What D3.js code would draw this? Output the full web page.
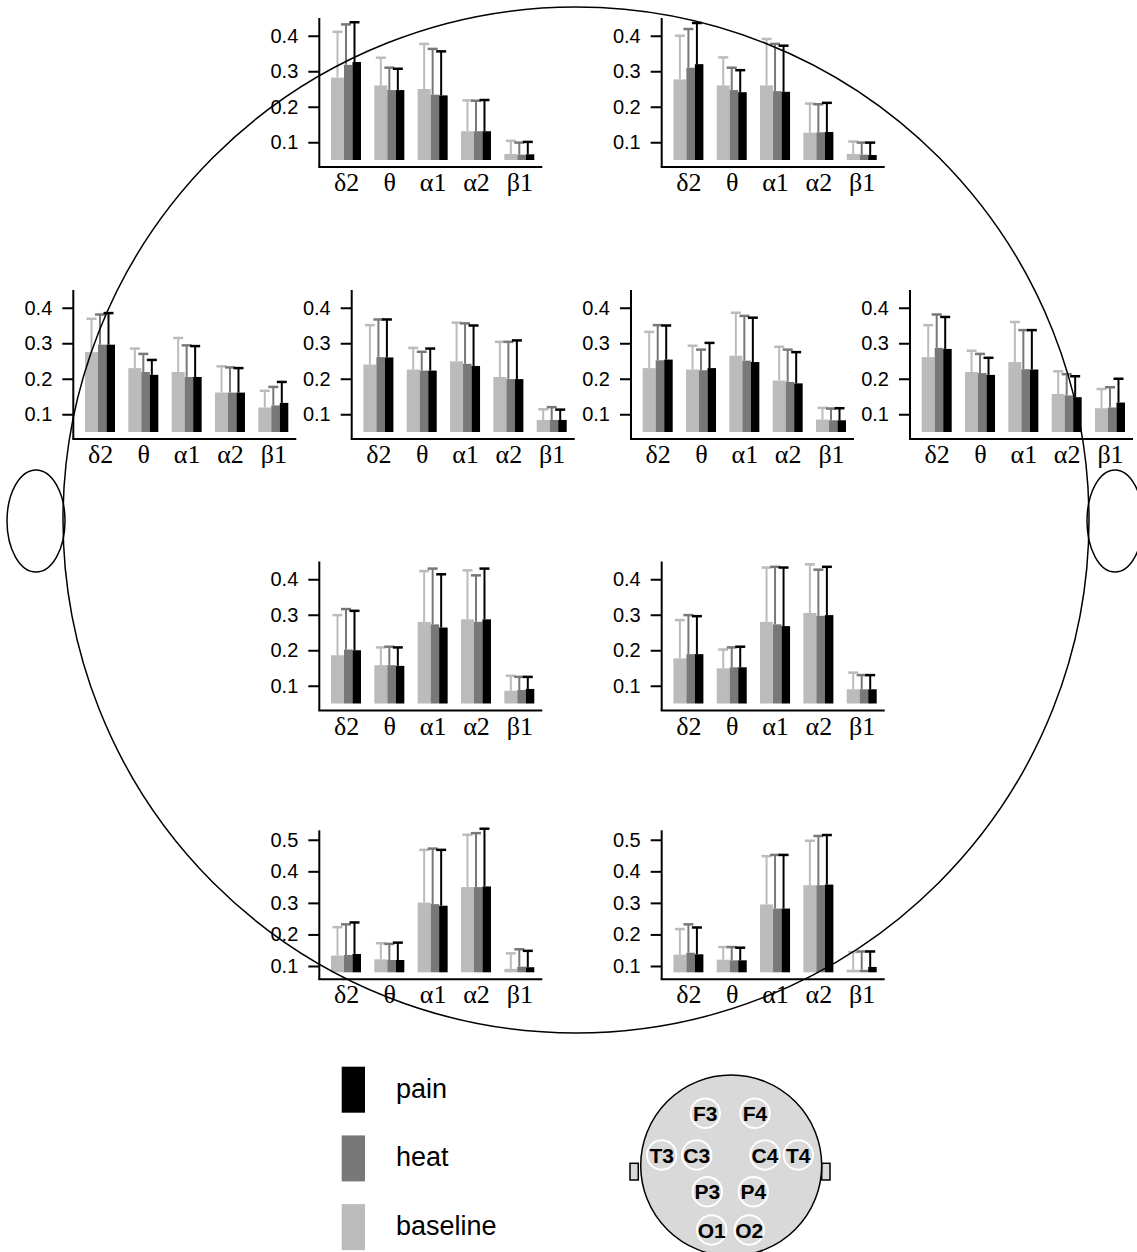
<!DOCTYPE html>
<html><head><meta charset="utf-8">
<script src="https://cdn.jsdelivr.net/npm/d3@7"></script>
<style>body{margin:0;background:#fff}svg{display:block}</style>
</head><body>
<svg id="c" width="1137" height="1252"></svg>
<script>
// ---------- data ----------
const bands = ["δ2", "θ", "α1", "α2", "β1"];
const conditions = ["baseline", "heat", "pain"];
const legendOrder = ["pain", "heat", "baseline"];
const ticksLow = [0.1, 0.2, 0.3, 0.4];
const ticksHigh = [0.1, 0.2, 0.3, 0.4, 0.5];
const electrodes = ["F3", "F4", "T3", "C3", "C4", "T4", "P3", "P4", "O1", "O2"];

// mean per band: [baseline, heat, pain]; upper = mean + SD
const meanF3 = [[0.282,0.318,0.326],[0.260,0.247,0.247],[0.250,0.234,0.232],[0.131,0.131,0.131],[0.067,0.065,0.066]];
const upperF3 = [[0.411,0.432,0.438],[0.338,0.310,0.307],[0.377,0.363,0.356],[0.218,0.217,0.219],[0.104,0.099,0.101]];
const meanF4 = [[0.277,0.310,0.320],[0.260,0.247,0.241],[0.260,0.244,0.242],[0.127,0.128,0.129],[0.067,0.065,0.064]];
const upperF4 = [[0.400,0.419,0.436],[0.339,0.310,0.303],[0.391,0.377,0.372],[0.209,0.207,0.211],[0.102,0.099,0.099]];
const meanT3 = [[0.275,0.296,0.296],[0.230,0.219,0.211],[0.219,0.205,0.205],[0.161,0.161,0.161],[0.119,0.125,0.132]];
const upperT3 = [[0.369,0.381,0.385],[0.285,0.270,0.253],[0.315,0.294,0.292],[0.235,0.232,0.230],[0.166,0.177,0.191]];
const meanC3 = [[0.240,0.261,0.260],[0.226,0.223,0.223],[0.249,0.242,0.236],[0.205,0.199,0.199],[0.084,0.084,0.084]];
const upperC3 = [[0.351,0.367,0.367],[0.287,0.276,0.285],[0.358,0.356,0.350],[0.304,0.304,0.308],[0.114,0.120,0.113]];
const meanC4 = [[0.230,0.252,0.254],[0.226,0.224,0.230],[0.265,0.251,0.247],[0.195,0.191,0.187],[0.085,0.083,0.083]];
const upperC4 = [[0.332,0.351,0.350],[0.293,0.282,0.301],[0.386,0.377,0.372],[0.290,0.282,0.275],[0.118,0.116,0.117]];
const meanT4 = [[0.261,0.287,0.284],[0.219,0.216,0.211],[0.247,0.227,0.226],[0.157,0.153,0.148],[0.117,0.119,0.133]];
const upperT4 = [[0.351,0.381,0.374],[0.279,0.270,0.259],[0.360,0.337,0.337],[0.221,0.213,0.207],[0.171,0.176,0.200]];
const meanP3 = [[0.186,0.202,0.200],[0.158,0.158,0.156],[0.280,0.273,0.264],[0.287,0.280,0.287],[0.086,0.088,0.091]];
const upperP3 = [[0.299,0.316,0.311],[0.208,0.210,0.208],[0.423,0.430,0.414],[0.425,0.411,0.430],[0.128,0.125,0.125]];
const meanP4 = [[0.177,0.189,0.189],[0.149,0.152,0.152],[0.280,0.273,0.268],[0.305,0.297,0.299],[0.090,0.090,0.090]];
const upperP4 = [[0.285,0.299,0.296],[0.202,0.208,0.210],[0.433,0.435,0.433],[0.442,0.427,0.435],[0.137,0.130,0.130]];
const meanO1 = [[0.133,0.135,0.138],[0.121,0.119,0.119],[0.301,0.296,0.291],[0.350,0.350,0.352],[0.091,0.098,0.096]];
const upperO1 = [[0.223,0.232,0.238],[0.172,0.170,0.174],[0.468,0.472,0.468],[0.516,0.521,0.535],[0.140,0.153,0.148]];
const meanO2 = [[0.136,0.142,0.137],[0.120,0.118,0.118],[0.295,0.282,0.282],[0.356,0.356,0.358],[0.088,0.088,0.097]];
const upperO2 = [[0.217,0.232,0.222],[0.160,0.160,0.158],[0.448,0.452,0.452],[0.497,0.512,0.515],[0.144,0.146,0.146]];

const dataByElectrode = {
  F3: [meanF3, upperF3], F4: [meanF4, upperF4], T3: [meanT3, upperT3], C3: [meanC3, upperC3],
  C4: [meanC4, upperC4], T4: [meanT4, upperT4], P3: [meanP3, upperP3], P4: [meanP4, upperP4],
  O1: [meanO1, upperO1], O2: [meanO2, upperO2]
};

// ---------- layout / style ----------
const colors = { baseline: "#bbbbbb", heat: "#787878", pain: "#000000" };
const panelPos = {
  F3: { x: 319.3, y: 160, hi: false }, F4: { x: 661.7, y: 160, hi: false },
  T3: { x: 73.3, y: 432, hi: false },  C3: { x: 351.7, y: 432, hi: false },
  C4: { x: 631, y: 432, hi: false },   T4: { x: 910, y: 432, hi: false },
  P3: { x: 319.3, y: 703.5, hi: false }, P4: { x: 661.7, y: 703.5, hi: false },
  O1: { x: 319.3, y: 972.3, hi: true }, O2: { x: 661.7, y: 972.3, hi: true }
};
const miniPos = {
  F3: [705.3, 1113.3], F4: [755, 1113.3], T3: [661.7, 1155], C3: [696.7, 1155],
  C4: [765, 1155], T4: [798.3, 1155], P3: [707.3, 1191.7], P4: [753.3, 1191.7],
  O1: [711.7, 1230], O2: [749.3, 1230]
};
const H = 142, AXW = 223, AXOFF = 7;
const parts = { baseline: { x0: -15, x1: -2, ex: -8.5 }, heat: { x0: -2, x1: 6.5, ex: 0 }, pain: { x0: 6.5, x1: 15, ex: 8.5 } };

const svg = d3.select("#c");

function drawPanel(name) {
  const [mean, upper] = dataByElectrode[name];
  const lay = panelPos[name];
  const dom = lay.hi ? [0.08, 0.53] : [0.05, 0.45];
  const ticks = lay.hi ? ticksHigh : ticksLow;
  const y = d3.scaleLinear().domain(dom).range([lay.y, lay.y - H]);
  const x = d3.scalePoint().domain(bands).range([lay.x + 26.7, lay.x + 200]);
  const g = svg.append("g");

  const rows = [];
  bands.forEach((b, i) => conditions.forEach((c, j) => rows.push({ band: b, cond: c, m: mean[i][j], u: upper[i][j] })));

  g.selectAll("rect.bar").data(rows).join("rect")
    .attr("x", d => x(d.band) + parts[d.cond].x0)
    .attr("width", d => parts[d.cond].x1 - parts[d.cond].x0)
    .attr("y", d => y(d.m))
    .attr("height", d => y(dom[0]) - y(d.m))
    .attr("fill", d => colors[d.cond]);

  const eb = g.selectAll("g.eb").data(rows).join("g").attr("stroke", d => colors[d.cond]).attr("stroke-width", 2);
  eb.append("line")
    .attr("x1", d => x(d.band) + parts[d.cond].ex).attr("x2", d => x(d.band) + parts[d.cond].ex)
    .attr("y1", d => y(d.m)).attr("y2", d => y(d.u));
  eb.append("line")
    .attr("x1", d => x(d.band) + parts[d.cond].ex - 5).attr("x2", d => x(d.band) + parts[d.cond].ex + 5)
    .attr("y1", d => y(d.u)).attr("y2", d => y(d.u)).attr("stroke-width", 2.5);

  // y axis
  const ya = g.append("g").attr("transform", `translate(${lay.x},0)`)
    .call(d3.axisLeft(y).tickValues(ticks).tickSize(11).tickPadding(10).tickFormat(d3.format(".1f")));
  ya.select(".domain").remove();
  ya.selectAll("line").attr("stroke", "#000").attr("stroke-width", 2);
  ya.selectAll("text").attr("font-family", "'Liberation Sans', Arial, sans-serif").attr("font-size", 20).attr("fill", "#000");
  g.append("line").attr("x1", lay.x).attr("x2", lay.x).attr("y1", lay.y - H).attr("y2", lay.y + AXOFF)
    .attr("stroke", "#000").attr("stroke-width", 2);

  // x axis
  const xa = g.append("g").attr("transform", `translate(0,${lay.y + AXOFF})`)
    .call(d3.axisBottom(x).tickSize(0).tickSizeOuter(0));
  xa.select(".domain").remove();
  xa.selectAll("text").attr("y", 24).attr("dy", null)
    .attr("font-family", "'Liberation Serif', 'Times New Roman', serif").attr("font-size", 26).attr("fill", "#000");
  g.append("line").attr("x1", lay.x - 1).attr("x2", lay.x + AXW).attr("y1", lay.y + AXOFF).attr("y2", lay.y + AXOFF)
    .attr("stroke", "#000").attr("stroke-width", 2);
}

electrodes.forEach(drawPanel);

// big head outline
svg.append("circle").attr("cx", 576).attr("cy", 520).attr("r", 513)
  .attr("fill", "none").attr("stroke", "#000").attr("stroke-width", 1.5);
svg.append("ellipse").attr("cx", 36).attr("cy", 521).attr("rx", 29).attr("ry", 51)
  .attr("fill", "none").attr("stroke", "#000").attr("stroke-width", 1.5);
svg.append("ellipse").attr("cx", 1115).attr("cy", 521).attr("rx", 28).attr("ry", 51)
  .attr("fill", "none").attr("stroke", "#000").attr("stroke-width", 1.5);

// legend
const lg = svg.append("g");
legendOrder.forEach((c, i) => {
  const yy = 1066.7 + i * 68.7;
  lg.append("rect").attr("x", 341.7).attr("y", yy).attr("width", 23.3).attr("height", 46).attr("fill", colors[c]);
  lg.append("text").attr("x", 396).attr("y", yy + 31).text(c)
    .attr("font-family", "'Liberation Sans', Arial, sans-serif").attr("font-size", 27).attr("fill", "#000");
});

// mini head map
const mh = svg.append("g");
mh.append("rect").attr("x", 630).attr("y", 1163.3).attr("width", 8.3).attr("height", 16.7)
  .attr("fill", "#d9d9d9").attr("stroke", "#000").attr("stroke-width", 1.5);
mh.append("rect").attr("x", 821.7).attr("y", 1163.3).attr("width", 8.3).attr("height", 16.7)
  .attr("fill", "#d9d9d9").attr("stroke", "#000").attr("stroke-width", 1.5);
mh.append("circle").attr("cx", 731.2).attr("cy", 1165.5).attr("r", 90.5)
  .attr("fill", "#d9d9d9").attr("stroke", "#000").attr("stroke-width", 1.5);
electrodes.forEach(e => {
  const [cx, cy] = miniPos[e];
  mh.append("circle").attr("cx", cx).attr("cy", cy).attr("r", 14.7)
    .attr("fill", "none").attr("stroke", "#fff").attr("stroke-width", 2);
  mh.append("text").attr("x", cx).attr("y", cy).attr("dy", "0.36em").attr("text-anchor", "middle").text(e)
    .attr("font-family", "'Liberation Sans', Arial, sans-serif").attr("font-weight", "bold").attr("font-size", 21).attr("fill", "#000");
});
</script>
</body></html>
